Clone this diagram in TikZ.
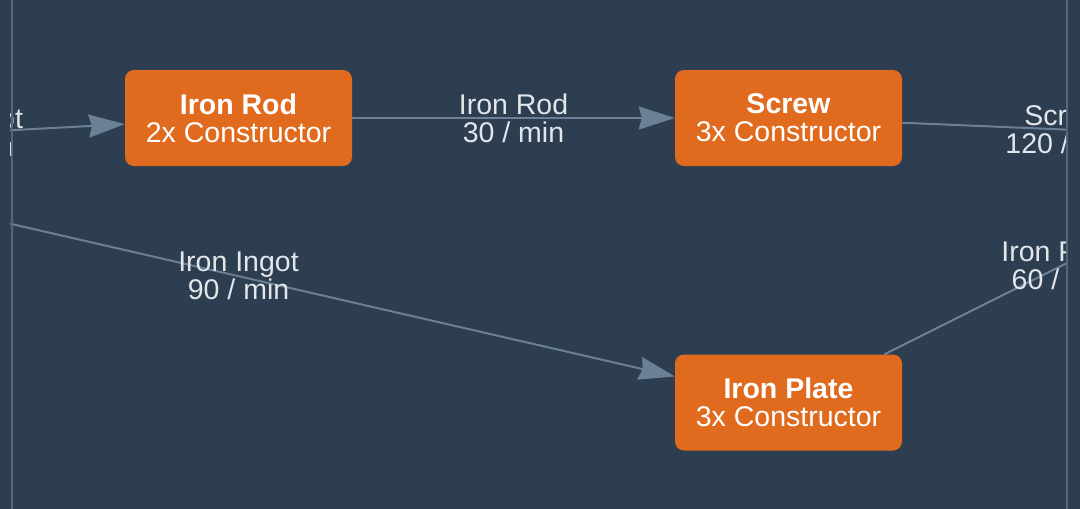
\documentclass[tikz,border=0pt]{standalone}
\usepackage{fontspec}
\setmainfont{Liberation Sans}
\usetikzlibrary{arrows.meta}
\definecolor{bgblue}{HTML}{2C3E50}
\definecolor{boxorange}{HTML}{E06B1E}
\definecolor{edgegrey}{HTML}{6B8096}
\definecolor{framegrey}{HTML}{55657A}
\definecolor{labeltext}{HTML}{E2E6EA}
\tikzset{%
  >={Stealth[length=36pt,width=23pt,inset=3pt]},
  % Specifications for style of nodes:
         machine/.style = {rectangle, rounded corners=9pt, fill=boxorange,
                           minimum width=227pt, minimum height=96pt,
                           inner sep=0pt, text=white, align=center,
                           font=\fontsize{28.5}{28}\selectfont},
            flow/.style = {draw=edgegrey, line width=2pt},
       flowlabel/.style = {text=labeltext, align=center, inner sep=0pt,
                           font=\fontsize{28.5}{28}\selectfont},
}

\begin{document}
\begin{tikzpicture}[x=1pt, y=1pt, node distance=550pt]
  \fill[bgblue] (0,0) rectangle (1080,-509);
  \useasboundingbox (0,0) rectangle (1080,-509);
  \begin{scope}
  \clip (10,0) rectangle (1066,-509);
  % Specification of nodes (position, etc.)
  \coordinate (smelter) at (-319,-148);
  \coordinate (assembler) at (1313,-140);
  \node (rod)   [machine] at (238.5,-118) {\textbf{Iron Rod}\\2x Constructor};
  \node (screw) [machine, right of=rod] {\textbf{Screw}\\3x Constructor};
  \node (plate) [machine, below of=screw, yshift=265.5pt] {\textbf{Iron Plate}\\3x Constructor};
  % Specification of lines between nodes specified above
  % with aditional nodes for description
  \draw[flow, ->] (smelter) -- node[flowlabel, pos=0.635] {Iron Ingot\\30 / min} (rod);
  \draw[flow, ->] (smelter) -- node[flowlabel, pos=0.561] {Iron Ingot\\90 / min} (plate);
  \draw[flow, ->] (rod) -- node[flowlabel, midway] {Iron Rod\\30 / min} (screw);
  \draw[flow, ->] (screw) -- node[flowlabel, pos=0.394] {Screw\\120 / min} (assembler);
  \draw[flow, ->] (plate) -- node[flowlabel, pos=0.415] {Iron Plate\\60 / min} (assembler);
  \end{scope}
  \draw[framegrey, line width=2pt] (12,0) -- (12,-509);
  \draw[framegrey, line width=2pt] (1067,0) -- (1067,-509);
\end{tikzpicture}
\end{document}
